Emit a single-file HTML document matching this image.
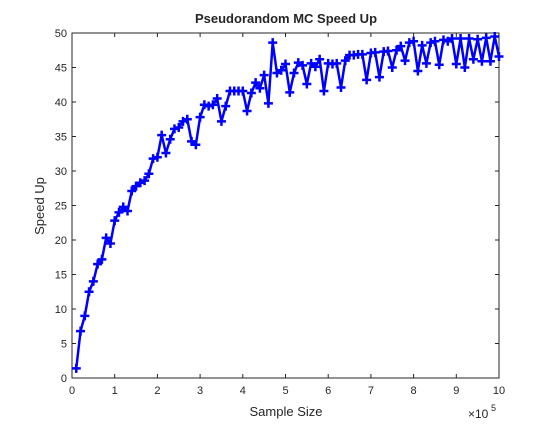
<!DOCTYPE html>
<html><head><meta charset="utf-8"><style>
body{margin:0;background:#fff;}
svg text{font-family:"Liberation Sans",Arial,sans-serif;fill:#262626;}
</style></head><body>
<svg width="553" height="425" xmlns="http://www.w3.org/2000/svg">
<rect width="553" height="425" fill="#fff"/>
<g id="plot"></g>
</svg>
<script>
const sampleSizes = [];
for (let i = 1; i <= 100; i++) sampleSizes.push(i * 1e4);
const speedUp = [1.4,6.8,9,12.5,14,16.5,17.2,20.3,19.5,22.8,24,24.8,24.2,27.1,27.8,28.3,28.6,29.6,31.8,32,
35.2,32.6,34.6,36.1,36.3,37.2,37.5,34.3,33.8,37.8,39.6,39.4,39.6,40.5,37.2,39.4,41.6,41.6,41.6,41.6,
38.7,41.3,42.8,42,43.9,39.8,48.6,44.2,44.6,45.5,41.4,44.2,45.7,45.3,42.6,45.6,45.1,46.2,41.6,45.6,
45.5,45.6,42.1,46,46.8,46.8,46.9,46.9,43.2,47.1,47.2,43.6,47.3,47.4,45,47.5,48.1,46,48.6,48.8,
44.5,48.2,45.6,48.6,48.8,45.4,49,48.8,49.2,45.5,49.2,45,49.2,46.2,49.1,45.9,49.3,49.5,46.6,46.6];
speedUp[97]=45.9; speedUp[98]=49.5; speedUp[99]=46.6;
const xTicks = [0,1,2,3,4,5,6,7,8,9,10];
const yTicks = [0,5,10,15,20,25,30,35,40,45,50];

const L=72,R=499,T=33,B=378;
const xs=v=>L+(v/1e6)*(R-L);
const ys=v=>B-(v/50)*(B-T);
const NS="http://www.w3.org/2000/svg";
const g=document.getElementById('plot');
function mk(tag,attrs,txt){const e=document.createElementNS(NS,tag);for(const k in attrs)e.setAttribute(k,attrs[k]);if(txt!==undefined)e.textContent=txt;g.appendChild(e);return e;}

const box=mk('rect',{x:L,y:T,width:R-L,height:B-T,fill:'none',stroke:'#262626','stroke-width':1});



xTicks.forEach(t=>{
  const x=xs(t*1e5);
  const tk=mk('path',{d:`M${x},${B}v-4M${x},${T}v4`,stroke:'#262626','stroke-width':1});
  
  
  const lb=mk('text',{x:x,y:B+16,'text-anchor':'middle','font-size':11},String(t));
  
  
});
yTicks.forEach(t=>{
  const y=ys(t);
  const tk=mk('path',{d:`M${L},${y}h4M${R},${y}h-4`,stroke:'#262626','stroke-width':1});
  
  
  const lb=mk('text',{x:L-5,y:y+4,'text-anchor':'end','font-size':11},String(t));
  
  
});

let d='';
sampleSizes.forEach((s,i)=>{d+=(i?'L':'M')+xs(s)+','+ys(speedUp[i]);});
const line=mk('path',{d:d,fill:'none',stroke:'#0000ff','stroke-width':2.5,'stroke-linejoin':'round'});


sampleSizes.forEach((s,i)=>{
  const x=xs(s),y=ys(speedUp[i]);
  const m=mk('path',{d:`M${x-4.5},${y}h9M${x},${y-4.5}v9`,stroke:'#0000ff','stroke-width':2.5});
  
  
});

const ti=mk('text',{x:286,y:23,'text-anchor':'middle','font-size':13,'font-weight':'bold',fill:'#000'},'Pseudorandom MC Speed Up');


const xl=mk('text',{x:286,y:416,'text-anchor':'middle','font-size':13},'Sample Size');


const yl=mk('text',{x:0,y:0,'text-anchor':'middle','font-size':13,transform:'translate(44,206) rotate(-90)'},'Speed Up');


const ex=mk('text',{x:468,y:418,'font-size':12},'×10');


const ex2=mk('text',{x:491,y:411,'font-size':9},'5');


</script>
</body></html>
